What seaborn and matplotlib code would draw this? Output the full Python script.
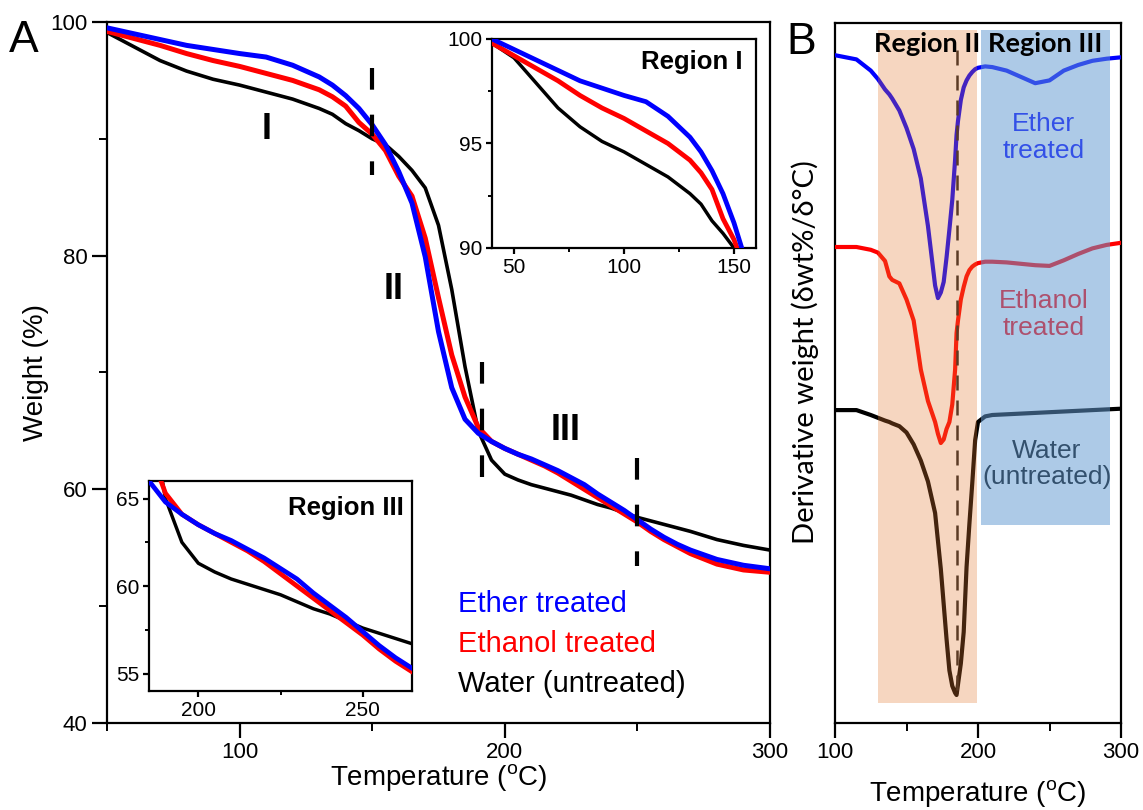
import matplotlib
matplotlib.use("Agg")
import matplotlib.pyplot as plt
import numpy as np
import pandas as pd
import seaborn as sns

# %%
# ---- TGA curves (panel A and the two insets) ----
temp = [40, 50, 60, 70, 80, 90, 100, 110, 120, 130, 135, 140, 145, 150, 155,
        160, 165, 170, 175, 180, 185, 190, 195, 200, 205, 210, 215, 220, 225,
        230, 235, 240, 245, 250, 255, 260, 265, 270, 280, 290, 300]
ether = [100.0, 99.5, 99.0, 98.5, 98.0, 97.65, 97.3, 97.0, 96.3, 95.3, 94.6,
         93.7, 92.6, 91.2, 89.5, 87.2, 84.5, 79.9, 73.5, 68.7, 66.0, 64.8,
         64.1, 63.5, 63.0, 62.6, 62.1, 61.6, 61.0, 60.4, 59.6, 58.9, 58.2,
         57.4, 56.6, 55.9, 55.3, 54.8, 54.0, 53.5, 53.2]
ethanol = [99.8, 99.2, 98.6, 98.0, 97.3, 96.7, 96.2, 95.6, 95.0, 94.2, 93.6,
           92.8, 91.4, 90.4, 89.0, 86.8, 85.1, 81.5, 76.4, 71.5, 67.9, 65.3,
           64.1, 63.5, 63.0, 62.5, 62.0, 61.4, 60.7, 60.0, 59.3, 58.6, 57.9,
           57.2, 56.4, 55.7, 55.1, 54.5, 53.6, 53.1, 52.9]
water = [99.8, 99.1, 97.9, 96.7, 95.8, 95.1, 94.6, 94.0, 93.4, 92.6, 92.1,
         91.3, 90.7, 90.0, 89.5, 88.5, 87.3, 85.8, 82.6, 77.1, 70.5, 65.0,
         62.5, 61.3, 60.8, 60.4, 60.1, 59.8, 59.5, 59.1, 58.7, 58.4, 58.0,
         57.6, 57.3, 57.0, 56.7, 56.4, 55.7, 55.2, 54.8]

# ---- derivative curves (panel B, arbitrary offset units 0-100) ----
temp_b = [100, 115, 125, 130, 135, 138, 140, 145, 150, 155, 160, 165, 170,
          172, 174, 176, 178, 180, 182, 184, 185, 186, 188, 190, 192, 194,
          196, 198, 200, 205, 210, 220, 230, 240, 250, 260, 270, 280, 290, 300]
d_ether = [95.4, 94.8, 93.2, 92.0, 90.5, 89.8, 89.2, 87.5, 85.0, 82.0, 77.8,
           71.0, 62.5, 60.7, 61.5, 63.0, 66.5, 70.5, 74.7, 80.5, 84.0, 86.0,
           89.0, 90.8, 91.8, 92.5, 93.0, 93.4, 93.6, 93.8, 93.7, 93.2, 92.3,
           91.4, 91.8, 93.2, 94.0, 94.6, 94.9, 95.1]
d_ethanol = [68.0, 68.0, 67.6, 67.2, 66.0, 63.8, 63.3, 62.8, 60.5, 57.5,
             50.5, 46.0, 43.0, 41.3, 40.0, 40.5, 42.0, 43.0, 45.5, 50.5,
             55.7, 57.5, 60.5, 62.3, 63.8, 64.7, 65.2, 65.5, 65.7, 65.9,
             65.9, 65.8, 65.6, 65.4, 65.3, 66.1, 67.0, 67.8, 68.3, 68.6]
d_water = [44.7, 44.7, 44.0, 43.6, 43.2, 43.0, 42.8, 42.4, 41.5, 39.8, 37.5,
           34.5, 30.0, 26.0, 22.0, 17.0, 12.0, 7.5, 5.3, 4.3, 4.0, 5.5, 8.5,
           13.0, 22.3, 28.5, 34.3, 40.4, 43.0, 43.8, 44.0, 44.1, 44.2, 44.3,
           44.4, 44.5, 44.6, 44.7, 44.8, 44.9]

labels = ["Ether treated", "Ethanol treated", "Water (untreated)"]
colours = ["#0000ff", "#ff0000", "#000000"]

df = pd.DataFrame({"Temp": temp, labels[0]: ether, labels[1]: ethanol,
                   labels[2]: water})
df_b = pd.DataFrame({"Temp": temp_b, labels[0]: d_ether,
                     labels[1]: d_ethanol, labels[2]: d_water})

# %%
sns.set_style("ticks")
plt.rcParams["font.family"] = ["Liberation Sans", "DejaVu Sans"]
plt.rcParams["mathtext.default"] = "regular"
plt.rcParams["axes.linewidth"] = 1.6
for key in ["text.color", "axes.labelcolor", "xtick.color", "ytick.color",
            "axes.edgecolor"]:
    plt.rcParams[key] = "black"

fig = plt.figure(figsize=(11.43, 8.10), dpi=100)
W, H = 1143, 810


def px_axes(l, t, r, b):
    return fig.add_axes([l / W, (H - b) / H, (r - l) / W, (b - t) / H])


def style(ax, major, minor, size):
    ax.tick_params(which="major", direction="out", length=major, width=1.6,
                   labelsize=size, top=False, right=False, pad=3,
                   colors="black")
    ax.tick_params(which="minor", direction="out", length=minor, width=1.4,
                   top=False, right=False, colors="black")
    for s in ax.spines.values():
        s.set_visible(True)
        s.set_linewidth(1.6)
        s.set_color("black")


axA = px_axes(107, 22, 770, 723)
insI = px_axes(492, 39, 756, 248)
insIII = px_axes(149, 481, 412, 691)
axB = px_axes(835, 23, 1121, 723)

widths = [3.6, 3.6, 2.6]
for ax, scale in [(axA, 1.0), (insI, 0.95), (insIII, 0.95)]:
    for lab, col, lw in zip(labels[::-1], colours[::-1], widths[::-1]):
        sns.lineplot(data=df, x="Temp", y=lab, color=col, lw=lw * scale,
                     ax=ax, zorder=3)
    ax.set_xlabel("")
    ax.set_ylabel("")

# panel A
axA.set_xlim(50, 300)
axA.set_ylim(40, 100)
axA.set_xticks([100, 200, 300])
axA.set_xticks([50, 150, 250], minor=True)
axA.set_yticks([40, 60, 80, 100])
axA.set_yticks([50, 70, 90], minor=True)
style(axA, 11, 6, 16)
axA.set_xlabel(r"Temperature ($^\mathregular{o}$C)", fontsize=20)
axA.set_ylabel("Weight (%)", fontsize=20)
axA.xaxis.set_label_coords(0.50, -0.056)
axA.yaxis.set_label_coords(-0.087, 0.50)

dash = (0, (5.2, 6.0))
for x0, y0, y1 in [(150, 96.1, 86.9), (191.5, 70.9, 59.2), (250, 62.7, 53.4)]:
    axA.plot([x0, x0], [y0, y1], color="black", lw=3.0, ls=dash, zorder=4)

for txt, x0, y0 in [("I", 110.3, 90.8), ("II", 158, 77.1), ("III", 222.8, 65.0)]:
    axA.text(x0, y0, txt, fontsize=26, fontweight="bold", ha="center",
             va="center")

for i, (lab, col) in enumerate(zip(labels, colours)):
    axA.text(182.5, 50.2 - 3.45 * i, lab, color=col, fontsize=21,
             ha="left", va="center")

# inset region I
insI.set_xlim(40, 160)
insI.set_ylim(90, 100)
insI.set_xticks([50, 100, 150])
insI.set_xticks([75, 125], minor=True)
insI.set_yticks([90, 95, 100])
insI.set_yticks([92.5, 97.5], minor=True)
style(insI, 4, 3, 15)
insI.text(0.95, 0.89, "Region I", transform=insI.transAxes, fontsize=18.5,
          fontweight="bold", ha="right", va="center")

# inset region III
insIII.set_xlim(185, 265)
insIII.set_ylim(54, 66)
insIII.set_xticks([200, 250])
insIII.set_xticks([225], minor=True)
insIII.set_yticks([55, 60, 65])
insIII.set_yticks([57.5, 62.5], minor=True)
style(insIII, 4, 3, 15)
insIII.text(0.97, 0.87, "Region III", transform=insIII.transAxes,
            fontsize=18.5, fontweight="bold", ha="right", va="center")

# panel B
for lab, col in zip(labels, colours):
    sns.lineplot(data=df_b, x="Temp", y=lab, color=col, lw=3.0, ax=axB,
                 zorder=3)
axB.set_xlim(100, 300)
axB.set_ylim(0, 100)
axB.set_xticks([100, 200, 300])
axB.set_xticks([150, 250], minor=True)
axB.set_yticks([])
style(axB, 11, 6, 16)
axB.plot([185, 185], [96.1, 4.3], color="#222222", lw=1.8, ls=(0, (6, 4)),
         zorder=3)

b_font = ["Lato", "DejaVu Sans"]
for txt, x0, y0, col in [("Ether\ntreated", 246, 83.7, "#0000ff"),
                         ("Ethanol\ntreated", 246, 58.4, "#ff0000"),
                         ("Water\n(untreated)", 248, 37.0, "#000000")]:
    axB.text(x0, y0, txt, color=col, fontsize=19, ha="center", va="center",
             linespacing=1.15, zorder=3)

axB.axvspan(130, 199, ymin=0.029, ymax=0.99, color=(226/255, 120/255, 47/255),
            alpha=0.30, lw=0, zorder=5)
axB.axvspan(202, 292, ymin=0.283, ymax=0.99, color=(98/255, 154/255, 210/255),
            alpha=0.52, lw=0, zorder=5)
axB.text(164.5, 97.0, "Region II", family=b_font, fontsize=19.5,
         fontweight="bold", ha="center", va="center", zorder=10)
axB.text(247, 97.0, "Region III", family=b_font, fontsize=19.5,
         fontweight="bold", ha="center", va="center", zorder=10)

axB.set_xlabel(r"Temperature ($^\mathregular{o}$C)", fontsize=20)
axB.set_ylabel("")
fig.text(805 / W, (H - 352) / H, "Derivative weight (δwt%/δ°C)",
         family=b_font, fontsize=21, rotation=90, ha="center", va="center")
axB.xaxis.set_label_coords(0.50, -0.078)

fig.text(24 / W, (H - 40) / H, "A", fontsize=32, ha="center", va="center")
fig.text(801 / W, (H - 42) / H, "B", fontsize=32, ha="center", va="center")

fig.savefig("out.png", dpi=100)
